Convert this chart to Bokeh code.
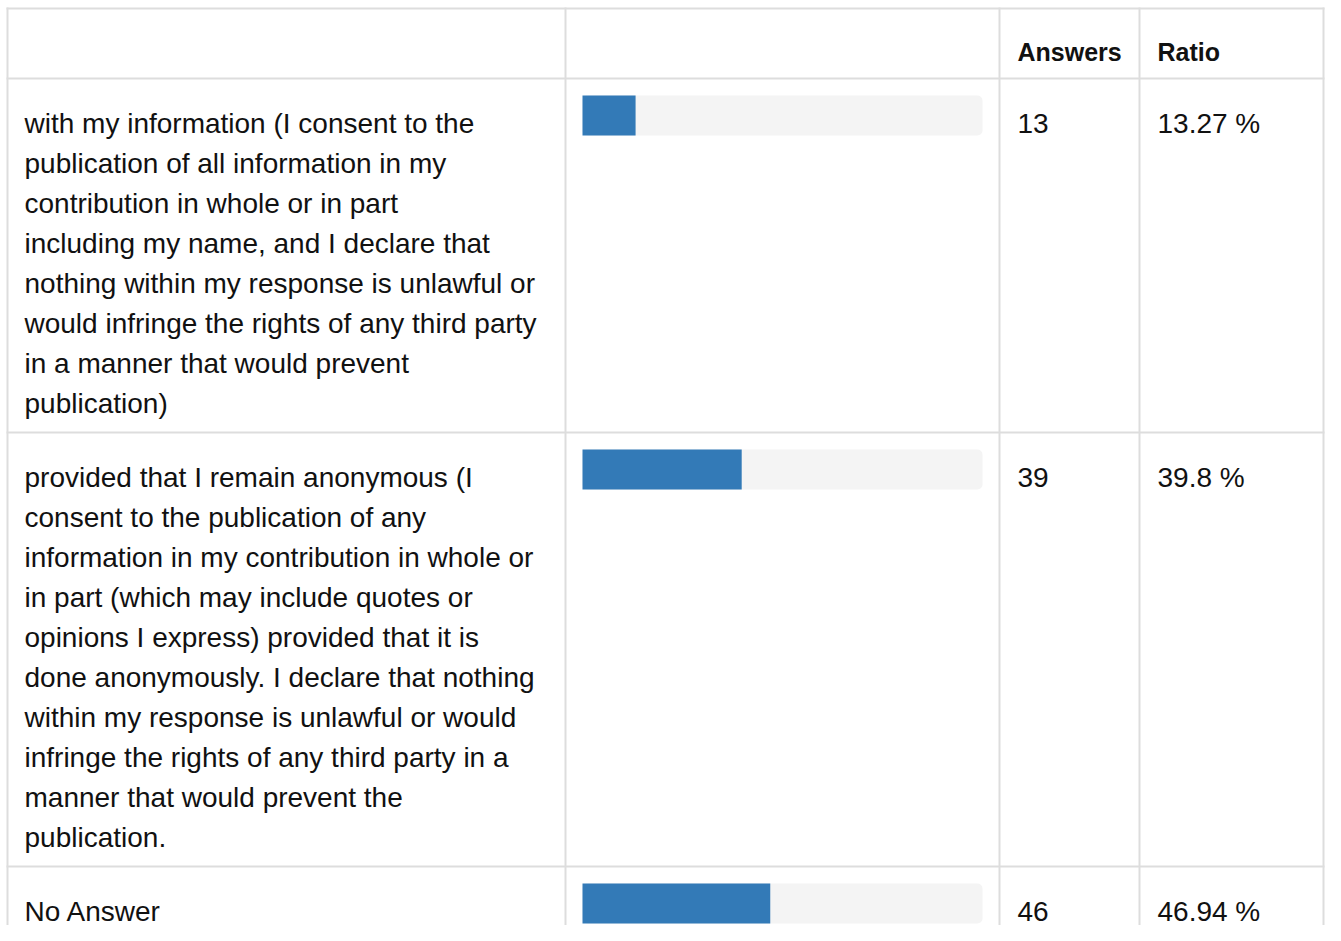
from bokeh.plotting import figure
from bokeh.models import Range1d
from bokeh.core.properties import value
from bokeh.embed import file_html
from bokeh.resources import INLINE

# ---- data ----
headers = ["", "", "Answers", "Ratio"]
label_lines = [
    ["with my information (I consent to the",
     "publication of all information in my",
     "contribution in whole or in part",
     "including my name, and I declare that",
     "nothing within my response is unlawful or",
     "would infringe the rights of any third party",
     "in a manner that would prevent",
     "publication)"],
    ["provided that I remain anonymous (I",
     "consent to the publication of any",
     "information in my contribution in whole or",
     "in part (which may include quotes or",
     "opinions I express) provided that it is",
     "done anonymously. I declare that nothing",
     "within my response is unlawful or would",
     "infringe the rights of any third party in a",
     "manner that would prevent the",
     "publication."],
    ["No Answer"],
]
answers = [13, 39, 46]
ratios = [13.27, 39.8, 46.94]
ratio_labels = ["13.27 %", "39.8 %", "46.94 %"]

# ---- layout (pixels) ----
W, H = 1325, 925
col_edges = [7, 565, 999, 1139, 1323]
TOP = 8
HEADER_H = 70
LINE_H = 40
ROW_PAD = 34
PAD = 17
BASE_OFF = 44.5
BAR_H = 40
TRACK_W = 400
BORDER = "#dddddd"
TXT = "#111111"
FONT = value("Liberation Sans")

p = figure(width=W, height=H, output_backend="svg", toolbar_location=None,
           x_range=Range1d(0, W), y_range=Range1d(H, 0),
           min_border=0, outline_line_color=None)
p.axis.visible = False
p.grid.visible = False
p.background_fill_color = "white"
p.border_fill_color = "white"

# row tops from line counts
row_tops = [TOP + HEADER_H]
for lines in label_lines[:-1]:
    row_tops.append(row_tops[-1] + len(lines) * LINE_H + ROW_PAD)
h_lines = [TOP] + row_tops

# borders
p.segment(x0=[col_edges[0] - 1] * len(h_lines), x1=[col_edges[-1] + 1] * len(h_lines),
          y0=h_lines, y1=h_lines, line_color=BORDER, line_width=2)
p.segment(x0=col_edges, x1=col_edges, y0=[TOP - 1] * len(col_edges),
          y1=[H] * len(col_edges), line_color=BORDER, line_width=2)

# header
hx = [col_edges[i] + PAD + 1 for i in range(4)]
p.text(x=hx, y=[TOP + BASE_OFF - 1] * 4, text=headers, text_font=FONT,
       text_font_style="bold", text_font_size="25px", text_color=TXT,
       text_baseline="alphabetic", text_align="left")

# label texts, one glyph per wrapped line
tx, ty, tt = [], [], []
for top, lines in zip(row_tops, label_lines):
    for i, ln in enumerate(lines):
        tx.append(col_edges[0] + PAD)
        ty.append(top + BASE_OFF + i * LINE_H)
        tt.append(ln)
p.text(x=tx, y=ty, text=tt, text_font=FONT, text_font_size="28px",
       text_color=TXT, text_baseline="alphabetic", text_align="left")

# answers and ratios
base = [t + BASE_OFF for t in row_tops]
p.text(x=[col_edges[2] + PAD + 1] * 3, y=base, text=[str(a) for a in answers],
       text_font=FONT, text_font_size="28px", text_color=TXT,
       text_baseline="alphabetic")
p.text(x=[col_edges[3] + PAD + 1] * 3, y=base, text=ratio_labels,
       text_font=FONT, text_font_size="28px", text_color=TXT,
       text_baseline="alphabetic")

# progress bars
track_left = col_edges[1] + PAD
bar_top = [t + PAD for t in row_tops]
bar_bot = [t + BAR_H for t in bar_top]
p.quad(left=[track_left] * 3, right=[track_left + TRACK_W] * 3,
       top=bar_top, bottom=bar_bot, fill_color="#f4f4f4", line_color=None,
       border_radius=5)
p.quad(left=[track_left] * 3,
       right=[track_left + TRACK_W * r / 100.0 for r in ratios],
       top=bar_top, bottom=bar_bot, fill_color="#337ab7", line_color=None)

open("out.html", "w").write(file_html(p, INLINE))
